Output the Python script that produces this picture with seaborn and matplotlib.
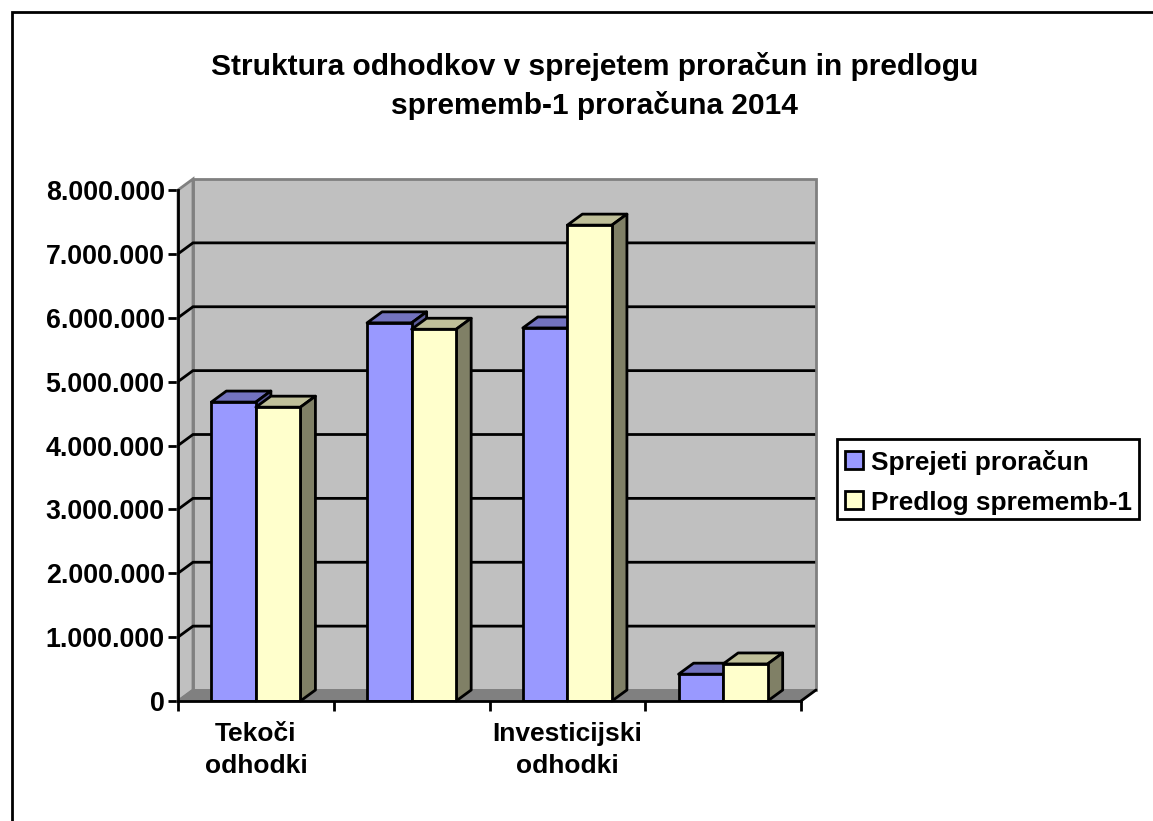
import matplotlib
matplotlib.use("Agg")
import matplotlib.pyplot as plt
import pandas as pd
import seaborn as sns
from matplotlib.lines import Line2D
from matplotlib.patches import Patch, Polygon

categories = ["A", "B", "C", "D"]
tick_labels = ["Tekoči\nodhodki", "", "Investicijski\nodhodki", ""]
series_names = ["Sprejeti proračun", "Predlog sprememb-1"]
sprejeti = [4680000, 5920000, 5840000, 420000]
predlog = [4600000, 5820000, 7450000, 580000]
yticks = [0, 1000000, 2000000, 3000000, 4000000, 5000000, 6000000, 7000000, 8000000]

front_colors = ["#9999FF", "#FFFFCC"]
top_colors = ["#7373BF", "#BFBF99"]
side_colors = ["#5C5C99", "#808066"]

W, H = 1153, 821
LW = 2.0
sns.set_theme(style="white")
plt.rcParams["font.family"] = ["Liberation Sans", "DejaVu Sans"]

df = pd.DataFrame({
    "cat": categories * 2,
    "vrednost": sprejeti + predlog,
    "serija": [series_names[0]] * 4 + [series_names[1]] * 4,
})

fig = plt.figure(figsize=(W / 100, H / 100), dpi=100, facecolor="white")
ax = fig.add_axes([178 / W, 1 - 701 / H, 623 / W, 511 / H], facecolor="none")

sns.barplot(data=df, x="cat", y="vrednost", hue="serija", hue_order=series_names,
            palette=front_colors, width=0.572, gap=0, saturation=1, dodge=True,
            edgecolor="black", linewidth=LW, legend=False, ax=ax)

ax.set_xlim(-0.5, 3.5)
ax.set_ylim(0, 8000000)

# 3d depth in data units (15 px right, 11 px up)
dx = 15 / (623 / 4)
dy = 11 / (511 / 8000000)
x0, x1 = ax.get_xlim()
y1 = 8000000

# walls and floor
ax.add_patch(Polygon([(x0 + dx, dy), (x1 + dx, dy), (x1 + dx, y1 + dy), (x0 + dx, y1 + dy)],
                     fc="#C0C0C0", ec="#808080", lw=LW, zorder=0.5, clip_on=False))
ax.add_patch(Polygon([(x0, 0), (x0 + dx, dy), (x0 + dx, y1 + dy), (x0, y1)],
                     fc="#C0C0C0", ec="#808080", lw=LW, zorder=0.6, clip_on=False))
ax.add_patch(Polygon([(x0, 0), (x1, 0), (x1 + dx, dy), (x0 + dx, dy)],
                     fc="#808080", ec="#808080", lw=1.0, zorder=0.7, clip_on=False))

# gridlines on back wall and left wall
for v in yticks[1:-1]:
    ax.plot([x0, x0 + dx, x1 + dx - 0.005], [v, v + dy, v + dy], color="black", lw=LW,
            zorder=1, clip_on=False, solid_joinstyle="miter", solid_capstyle="butt")
ax.plot([x1, x1 + dx], [0, dy], color="black", lw=LW, zorder=1, clip_on=False)
ax.plot([x0, x0 + dx], [0, dy], color="#808080", lw=1.2, zorder=1, clip_on=False)

# top and side faces from the bars seaborn drew
for i, cont in enumerate(ax.containers):
    z = 2 + i
    for bar in cont:
        bar.set_zorder(z + 0.2)
        bx, bw, bh = bar.get_x(), bar.get_width(), bar.get_height()
        ax.add_patch(Polygon([(bx, bh), (bx + bw, bh), (bx + bw + dx, bh + dy), (bx + dx, bh + dy)],
                             fc=top_colors[i], ec="black", lw=LW, zorder=z, clip_on=False,
                             joinstyle="round"))
        ax.add_patch(Polygon([(bx + bw, 0), (bx + bw + dx, dy), (bx + bw + dx, bh + dy), (bx + bw, bh)],
                             fc=side_colors[i], ec="black", lw=LW, zorder=z, clip_on=False,
                             joinstyle="round"))

sns.despine(ax=ax, top=True, right=True)
for s in ["left", "bottom"]:
    ax.spines[s].set_color("black")
    ax.spines[s].set_linewidth(LW)
    ax.spines[s].set_zorder(6)

ax.set_xlabel("")
ax.set_ylabel("")
ax.set_yticks(yticks)
ax.set_yticklabels([f"{v:,}".replace(",", ".") for v in yticks], fontsize=19.3, fontweight="bold",
                   color="black")
ax.set_xticks([x0, x0 + 1, x0 + 2, x0 + 3, x1])
ax.set_xticklabels([""] * 5)
ax.tick_params(axis="both", direction="out", length=7.5, width=LW, color="black", pad=2,
               bottom=True, left=True)
for i, lab in enumerate(tick_labels):
    if lab:
        ax.annotate(lab, xy=(i, 0), xytext=(0, -15), textcoords="offset points",
                    ha="center", va="top", fontsize=19, fontweight="bold", color="black",
                    linespacing=1.45, annotation_clip=False)

fig.text(594.5 / W, 1 - 86 / H, "Struktura odhodkov v sprejetem proračun in predlogu\nsprememb-1 proračuna 2014",
         ha="center", va="center", fontsize=21.5, fontweight="bold", color="black", linespacing=1.42)

handles = [Patch(fc=c, ec="black", lw=LW) for c in front_colors]
leg = fig.legend(handles, series_names, loc="center left", bbox_to_anchor=(837 / W, 1 - 479 / H),
                 frameon=True, fancybox=False, edgecolor="black", framealpha=1,
                 prop={"size": 18.9, "weight": "bold"}, handlelength=0.7, handleheight=0.7,
                 handletextpad=0.28, labelspacing=0.6, borderpad=0.3, borderaxespad=0)
leg.get_frame().set_linewidth(LW)
# rows sit a little lower in the frame than the default layout
for t in leg.get_texts():
    t.set_color("black")
    t.set_y(-3.5)
for h in leg.legend_handles:
    h.set_y(h.get_y() - 2)

# outer chart border, only top and left are in the picture
fig.add_artist(Line2D([11.5 / W, 11.5 / W, 1], [0, 1 - 12.5 / H, 1 - 12.5 / H],
                      color="black", lw=LW, solid_joinstyle="miter"))

fig.savefig("out.png", dpi=100)
